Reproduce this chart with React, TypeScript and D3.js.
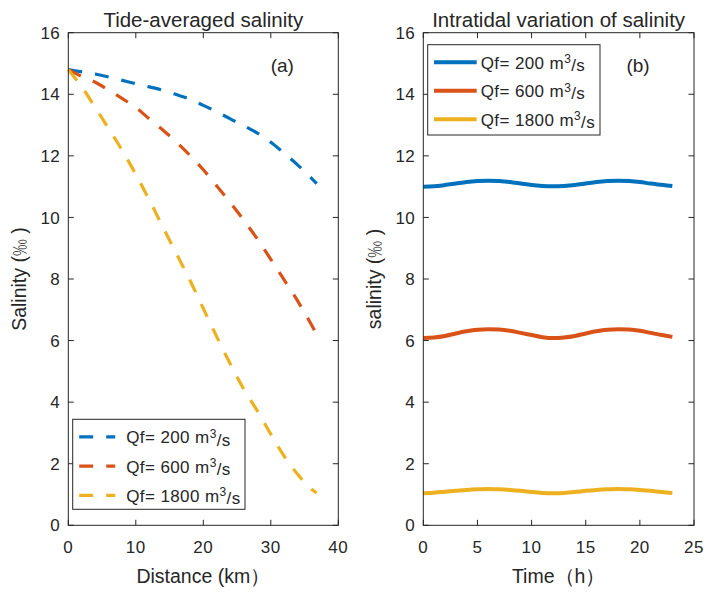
import React from "react";
import * as d3 from "d3";

const distance = [0, 2, 4, 6, 8, 10, 12, 14, 16, 18, 20, 22, 24, 26, 28, 30, 32, 34, 36, 36.8];
const tideAvg200 = [14.8, 14.73, 14.66, 14.56, 14.45, 14.34, 14.24, 14.13, 13.99, 13.84, 13.64, 13.43, 13.2, 12.98, 12.74, 12.44, 12.08, 11.7, 11.28, 11.1];
const tideAvg600 = [14.8, 14.58, 14.39, 14.13, 13.86, 13.57, 13.2, 12.84, 12.45, 12.02, 11.55, 11.02, 10.48, 9.91, 9.3, 8.64, 7.96, 7.28, 6.52, 6.2];
const tideAvg1800 = [14.8, 14.24, 13.57, 12.88, 12.17, 11.4, 10.57, 9.69, 8.83, 7.97, 7.04, 6.12, 5.24, 4.42, 3.72, 2.96, 2.24, 1.65, 1.18, 1.05];

const hours = [0, 1, 2, 3, 4, 5, 6, 7, 8, 9, 10, 11, 12, 13, 14, 15, 16, 17, 18, 19, 20, 21, 22, 23];
const intra200 = [11.0, 11.01, 11.05, 11.1, 11.15, 11.18, 11.19, 11.18, 11.15, 11.1, 11.05, 11.02, 11.01, 11.02, 11.05, 11.1, 11.15, 11.18, 11.19, 11.18, 11.15, 11.1, 11.06, 11.02];
const intra600 = [6.08, 6.1, 6.15, 6.23, 6.3, 6.35, 6.37, 6.36, 6.32, 6.25, 6.18, 6.11, 6.08, 6.1, 6.15, 6.23, 6.3, 6.35, 6.37, 6.36, 6.32, 6.25, 6.18, 6.12];
const intra1800 = [1.04, 1.06, 1.09, 1.12, 1.15, 1.17, 1.18, 1.17, 1.15, 1.12, 1.08, 1.05, 1.04, 1.05, 1.08, 1.12, 1.15, 1.17, 1.18, 1.17, 1.15, 1.12, 1.08, 1.05];

const seriesLabels = ["200", "600", "1800"];
const colors = ["#0072BD", "#D95319", "#EDB120"];

const yTicks = [0, 2, 4, 6, 8, 10, 12, 14, 16];
const xTicksA = [0, 10, 20, 30, 40];
const xTicksB = [0, 5, 10, 15, 20, 25];

const W = 707;
const H = 593;
const TXT = "#262626";
const FONT = "'Liberation Sans', Arial, sans-serif";

const top = 32.7;
const bottom = 525.3;

function Panel({ x0, x1, xDomain, xTicks, xs, ys, dashed, title, ylabel, xlabel, tag, legend }) {
  const x = d3.scaleLinear().domain(xDomain).range([x0, x1]);
  const y = d3.scaleLinear().domain([0, 16]).range([bottom, top]);
  const line = d3.line().x((d) => x(d[0])).y((d) => y(d[1])).curve(d3.curveMonotoneX);
  const tl = 5.5;
  const cx = (x0 + x1) / 2;
  const cy = (top + bottom) / 2;
  return (
    <g>
      {ys.map((s, i) => (
        <path
          key={i}
          d={line(xs.map((v, j) => [v, s[j]]))}
          fill="none"
          stroke={colors[i]}
          strokeWidth={dashed ? 3.2 : 4}
          strokeDasharray={dashed ? "14,13" : undefined}
        />
      ))}
      <rect x={x0} y={top} width={x1 - x0} height={bottom - top} fill="none" stroke={TXT} strokeWidth={1} />
      {yTicks.map((t) => (
        <g key={"y" + t}>
          <line x1={x0} x2={x0 + tl} y1={y(t)} y2={y(t)} stroke={TXT} />
          <line x1={x1} x2={x1 - tl} y1={y(t)} y2={y(t)} stroke={TXT} />
          <text x={x0 - 8} y={y(t)} dy="0.36em" textAnchor="end" fontSize={17} letterSpacing={0.5} fill={TXT} fontFamily={FONT}>
            {t}
          </text>
        </g>
      ))}
      {xTicks.map((t) => (
        <g key={"x" + t}>
          <line x1={x(t)} x2={x(t)} y1={bottom} y2={bottom - tl} stroke={TXT} />
          <line x1={x(t)} x2={x(t)} y1={top} y2={top + tl} stroke={TXT} />
          <text x={x(t)} y={bottom + 28} textAnchor="middle" fontSize={17} letterSpacing={0.5} fill={TXT} fontFamily={FONT}>
            {t}
          </text>
        </g>
      ))}
      <text x={cx} y={26.5} textAnchor="middle" fontSize={20.5} fill={TXT} fontFamily={FONT}>
        {title}
      </text>
      <text x={cx} y={583} textAnchor="middle" fontSize={19.5} fill={TXT} fontFamily={FONT}>
        {xlabel}
      </text>
      <text
        transform={`translate(${x0 - 42},${cy}) rotate(-90)`}
        textAnchor="middle"
        fontSize={19.5}
        fill={TXT}
        fontFamily={FONT}
      >
        {ylabel}
      </text>
      <text x={x1 - 56} y={72} textAnchor="middle" fontSize={19} fill={TXT} fontFamily={FONT}>
        {tag}
      </text>
      <g>
        <rect x={legend.x} y={legend.y} width={legend.w} height={legend.h} fill="#fff" stroke="#262626" strokeWidth={1} />
        {seriesLabels.map((lab, i) => {
          const ly = legend.y + legend.first + i * legend.step;
          return (
            <g key={lab}>
              <line
                x1={legend.x + legend.lx0}
                x2={legend.x + legend.lx1}
                y1={ly}
                y2={ly}
                stroke={colors[i]}
                strokeWidth={dashed ? 3.2 : 4}
                strokeDasharray={dashed ? "14,13" : undefined}
              />
              <text x={legend.x + legend.tx} y={ly} dy="0.38em" fontSize={17} letterSpacing={0.4} fill={TXT} fontFamily={FONT}>
                {"Qf= " + lab + " m"}
                <tspan dy="-0.45em" fontSize={12}>3</tspan>
                <tspan dy="0.45em">/s</tspan>
              </text>
            </g>
          );
        })}
      </g>
    </g>
  );
}

export default function App() {
  return (
    <svg width={W} height={H} style={{ position: "absolute", left: 0, top: 0, background: "#fff" }}>
      <rect width={W} height={H} fill="#fff" />
      <Panel
        x0={68.3}
        x1={338.3}
        xDomain={[0, 40]}
        xTicks={xTicksA}
        xs={distance}
        ys={[tideAvg200, tideAvg600, tideAvg1800]}
        dashed={true}
        title="Tide-averaged salinity"
        ylabel={<>Salinity (<tspan fontWeight={300} fontFamily="'Noto Sans CJK SC', sans-serif" fontSize={17}>‰</tspan> )</>}
        xlabel="Distance (km）"
        tag="(a)"
        legend={{ x: 72.7, y: 419.3, w: 172.3, h: 90, first: 17.5, step: 29.3, lx0: 6.5, lx1: 42.5, tx: 53.5 }}
      />
      <Panel
        x0={423.3}
        x1={694}
        xDomain={[0, 25]}
        xTicks={xTicksB}
        xs={hours}
        ys={[intra200, intra600, intra1800]}
        dashed={false}
        title="Intratidal variation of salinity"
        ylabel={<>salinity (<tspan fontWeight={300} fontFamily="'Noto Sans CJK SC', sans-serif" fontSize={17}>‰</tspan> )</>}
        xlabel="Time（h）"
        tag="(b)"
        legend={{ x: 427.7, y: 44.7, w: 172.3, h: 90.3, first: 17.5, step: 28.5, lx0: 6.3, lx1: 49, tx: 53 }}
      />
    </svg>
  );
}
